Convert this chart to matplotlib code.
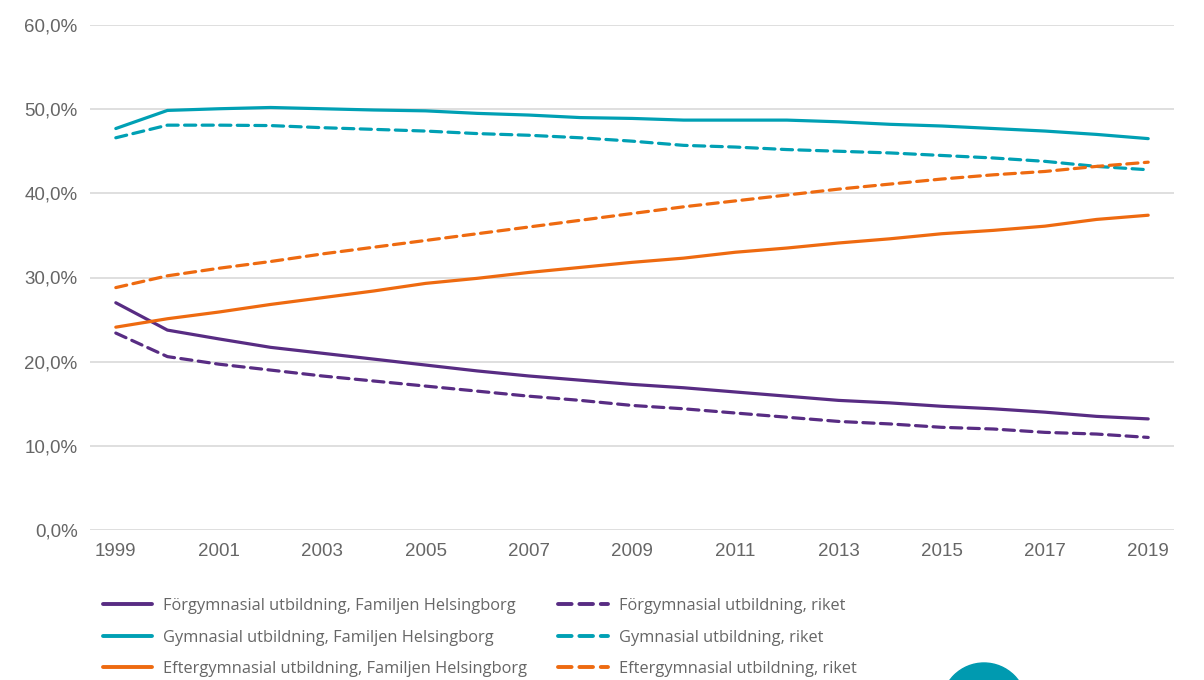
import matplotlib.pyplot as plt
from matplotlib.patches import Circle
from matplotlib.ticker import FuncFormatter

years = list(range(1999, 2020))

forgym_hbg = [27.0, 23.75, 22.7, 21.7, 21.0, 20.3, 19.6, 18.9, 18.3, 17.8, 17.3,
              16.9, 16.4, 15.9, 15.4, 15.1, 14.7, 14.4, 14.0, 13.5, 13.2]
gym_hbg = [47.7, 49.85, 50.05, 50.2, 50.05, 49.9, 49.8, 49.5, 49.3, 49.0, 48.9,
           48.7, 48.7, 48.7, 48.5, 48.2, 48.0, 47.7, 47.4, 47.0, 46.5]
eftergym_hbg = [24.1, 25.1, 25.9, 26.8, 27.6, 28.4, 29.3, 29.9, 30.6, 31.2, 31.8,
                32.3, 33.0, 33.5, 34.1, 34.6, 35.2, 35.6, 36.1, 36.9, 37.4]

forgym_riket = [23.4, 20.6, 19.7, 19.0, 18.3, 17.7, 17.1, 16.5, 15.9, 15.4, 14.8,
                14.4, 13.9, 13.4, 12.9, 12.6, 12.2, 12.0, 11.6, 11.4, 11.0]
gym_riket = [46.6, 48.1, 48.1, 48.05, 47.8, 47.6, 47.4, 47.1, 46.9, 46.6, 46.2,
             45.7, 45.5, 45.2, 45.0, 44.8, 44.5, 44.2, 43.8, 43.2, 42.8]
eftergym_riket = [28.8, 30.2, 31.1, 31.9, 32.8, 33.6, 34.4, 35.2, 36.0, 36.8, 37.6,
                  38.4, 39.1, 39.8, 40.5, 41.1, 41.7, 42.2, 42.6, 43.2, 43.7]

labels_hbg = ['Förgymnasial utbildning, Familjen Helsingborg',
              'Gymnasial utbildning, Familjen Helsingborg',
              'Eftergymnasial utbildning, Familjen Helsingborg']
labels_riket = ['Förgymnasial utbildning, riket',
                'Gymnasial utbildning, riket',
                'Eftergymnasial utbildning, riket']

purple = '#582C83'
teal = '#00A0B4'
orange = '#EE6A10'
colors = [purple, teal, orange]
grey = '#666666'

fig = plt.figure(figsize=(12.04, 6.8), dpi=100)
ax = fig.add_axes([90/1204, 1 - 530/680, 1084/1204, 505/680])

hbg = [forgym_hbg, gym_hbg, eftergym_hbg]
riket = [forgym_riket, gym_riket, eftergym_riket]

handles = []
for vals, c, lab in zip(hbg, colors, labels_hbg):
    h, = ax.plot(years, vals, color=c, lw=2.3, label=lab, solid_capstyle='round')
    handles.append(h)
for vals, c, lab in zip(riket, colors, labels_riket):
    h, = ax.plot(years, vals, color=c, lw=2.3, label=lab, dashes=(3.5, 2),
                 dash_capstyle='round')
    handles.append(h)

ax.set_xlim(1998.5, 2019.5)
ax.set_ylim(0, 60)
ax.set_yticks(range(0, 61, 10))
ax.yaxis.set_major_formatter(FuncFormatter(lambda v, p: f'{v:.1f}%'.replace('.', ',')))
ax.set_xticks(range(1999, 2020, 2))
ax.grid(axis='y', color='#d9d9d9', lw=1.2)
ax.set_axisbelow(True)
for s in ax.spines.values():
    s.set_visible(False)
ax.tick_params(length=0, labelsize=13.5, labelcolor=grey)
ax.tick_params(axis='y', pad=9)
ax.tick_params(axis='x', pad=9)
for t in ax.get_xticklabels() + ax.get_yticklabels():
    t.set_fontfamily('Liberation Sans')

# legend under the plot, two columns
leg = fig.legend(handles=handles, ncol=2, loc='upper left',
                 bbox_to_anchor=(103/1204, 1 - 598/680), frameon=False,
                 prop={'family': 'Open Sans', 'size': 11.8},
                 handlelength=3.0, handletextpad=0.67, columnspacing=1.9,
                 labelspacing=0.95, borderpad=0, borderaxespad=0)
for t in leg.get_texts():
    t.set_color(grey)
for h in leg.legend_handles:
    h.set_linewidth(2.8)

circ = Circle((9.84, 6.8 - 7.055), 0.425, transform=fig.dpi_scale_trans,
              color='#009AB0', clip_on=False)
fig.patches.append(circ)

fig.savefig('out.png', dpi=100)
